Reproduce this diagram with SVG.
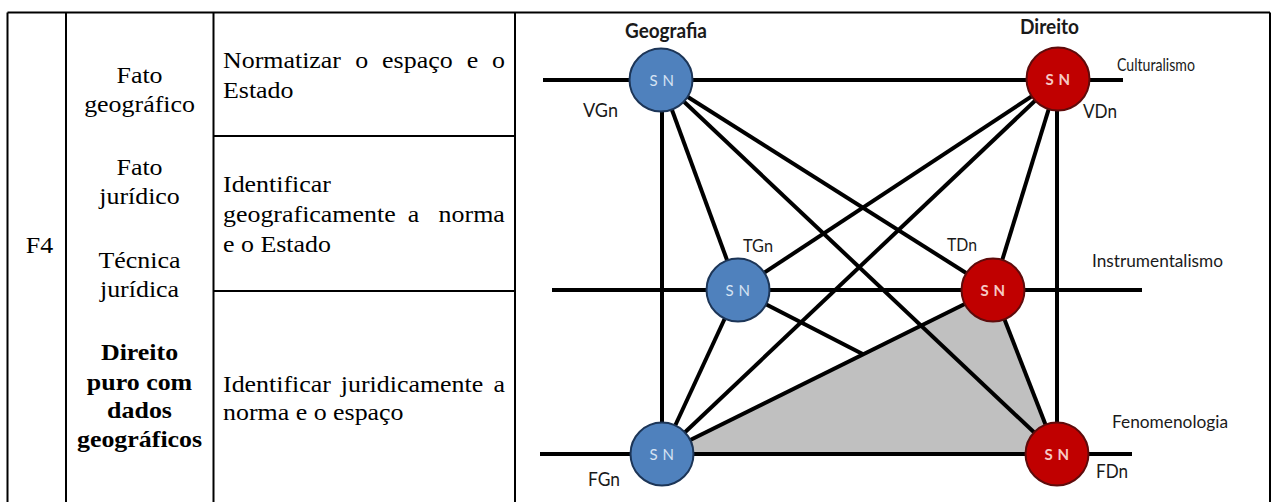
<svg xmlns="http://www.w3.org/2000/svg" width="1275" height="502" viewBox="0 0 1275 502">
  <style>
    .grid { stroke: #000; stroke-width: 2; fill: none; }
    .cell { font-family: "Liberation Serif", "Times New Roman", serif; font-size: 24px; fill: #000; }
    .mid { text-anchor: middle; }
    .b { font-weight: bold; }
    .edge { stroke: #000; stroke-width: 4; fill: none; stroke-linecap: butt; }
    .lbl { font-family: Lato, "Open Sans", "Liberation Sans", sans-serif; fill: #1a1a1a; }
    .hdr { font-weight: bold; font-size: 20px; }
    .geo circle { fill: #4f81bd; stroke: #1c3557; stroke-width: 2; }
    .dir circle { fill: #c00000; stroke: #5e0b0b; stroke-width: 2; }
    .sn { font-family: Lato, "Open Sans", "Liberation Sans", sans-serif; font-size: 15px; letter-spacing: 0.5px; text-anchor: middle; }
    .geo .sn { fill: #d6e3f3; }
    .dir .sn { fill: #f6c9c4; font-weight: bold; }
  </style>

  <rect width="1275" height="502" fill="#fff"/>

  <!-- table frame -->
  <g id="table">
    <path class="grid" d="M7.5,12.5 H1270 M7.5,12.5 V502 M66,12.5 V502 M213.5,12.5 V502 M515,12.5 V502 M1270,12.5 V502 M213.5,136 H515 M213.5,291 H515"/>
    <!-- cell texts, slightly widened glyphs -->
    <g transform="scale(1.08,1)">
      <text class="cell mid" x="36.6" y="253">F4</text>

      <text class="cell mid" x="129.2" y="83">Fato</text>
      <text class="cell mid" x="129.2" y="112">geográfico</text>
      <text class="cell mid" x="129.2" y="175">Fato</text>
      <text class="cell mid" x="129.2" y="204">jurídico</text>
      <text class="cell mid" x="129.2" y="268">Técnica</text>
      <text class="cell mid" x="129.2" y="297">jurídica</text>
      <text class="cell mid b" x="129.2" y="360">Direito</text>
      <text class="cell mid b" x="129.2" y="390">puro com</text>
      <text class="cell mid b" x="129.2" y="418">dados</text>
      <text class="cell mid b" x="129.2" y="447">geográficos</text>

      <text class="cell" y="68"><tspan x="206.5">Normatizar</tspan><tspan x="328.9">o</tspan><tspan x="353.8">espaço</tspan><tspan x="432.1">e</tspan><tspan x="455.6">o</tspan></text>
      <text class="cell" x="206.5" y="98">Estado</text>

      <text class="cell" x="206.5" y="192">Identificar</text>
      <text class="cell" y="222"><tspan x="206.5">geograficamente</tspan><tspan x="377.6">a</tspan><tspan x="406.1">norma</tspan></text>
      <text class="cell" x="206.5" y="252">e o Estado</text>

      <text class="cell" y="392"><tspan x="206.5">Identificar</tspan><tspan x="315.6">juridicamente</tspan><tspan x="456.9">a</tspan></text>
      <text class="cell" x="206.5" y="420">norma e o espaço</text>
    </g>
  </g>

  <!-- connectors: axes, links and the shaded region -->
  <g id="connectors">
    <line class="edge" x1="738" y1="290" x2="1057" y2="454"/>
    <polygon points="662,454 993,290 1057,454" fill="#c0c0c0"/>
    <line class="edge" x1="543" y1="80" x2="1123" y2="80"/>
    <line class="edge" x1="552" y1="290" x2="1142" y2="290"/>
    <line class="edge" x1="540" y1="454" x2="1132" y2="454"/>
    <line class="edge" x1="662" y1="80" x2="662" y2="454"/>
    <line class="edge" x1="1057" y1="79" x2="1057" y2="454"/>
    <line class="edge" x1="661" y1="80" x2="738" y2="290"/>
    <line class="edge" x1="661" y1="80" x2="993" y2="290"/>
    <line class="edge" x1="661" y1="80" x2="1057" y2="454"/>
    <line class="edge" x1="1058" y1="79" x2="738" y2="290"/>
    <line class="edge" x1="1058" y1="79" x2="662" y2="454"/>
    <line class="edge" x1="1058" y1="79" x2="993" y2="290"/>
    <line class="edge" x1="738" y1="290" x2="662" y2="454"/>
    <line class="edge" x1="993" y1="290" x2="662" y2="454"/>
    <line class="edge" x1="993" y1="290" x2="1057" y2="454"/>
  </g>

  <!-- nodes -->
  <g id="VG" class="geo">
    <circle cx="661" cy="80" r="31.5"/>
    <text class="sn" x="662" y="86">S N</text>
  </g>
  <g id="VD" class="dir">
    <circle cx="1058" cy="79" r="31.5"/>
    <text class="sn" x="1058" y="85">S N</text>
  </g>
  <g id="TG" class="geo">
    <circle cx="738" cy="290" r="31.5"/>
    <text class="sn" x="738" y="296">S N</text>
  </g>
  <g id="TD" class="dir">
    <circle cx="993" cy="290" r="31.5"/>
    <text class="sn" x="993" y="296">S N</text>
  </g>
  <g id="FG" class="geo">
    <circle cx="662" cy="454" r="31.5"/>
    <text class="sn" x="662" y="460">S N</text>
  </g>
  <g id="FD" class="dir">
    <circle cx="1057" cy="454" r="31.5"/>
    <text class="sn" x="1057" y="460">S N</text>
  </g>

  <!-- labels -->
  <g id="labels" class="lbl">
    <text class="hdr" x="625" y="37.5" textLength="82" lengthAdjust="spacingAndGlyphs">Geografia</text>
    <text class="hdr" x="1020" y="34" textLength="59" lengthAdjust="spacingAndGlyphs">Direito</text>
    <text x="1117" y="71" font-size="17" textLength="78" lengthAdjust="spacingAndGlyphs">Culturalismo</text>
    <text x="1092" y="267" font-size="17" textLength="131" lengthAdjust="spacingAndGlyphs">Instrumentalismo</text>
    <text x="1112" y="428" font-size="17" textLength="116" lengthAdjust="spacingAndGlyphs">Fenomenologia</text>
    <text x="583" y="117" font-size="19" textLength="35" lengthAdjust="spacingAndGlyphs">VGn</text>
    <text x="1083" y="118" font-size="19" textLength="34" lengthAdjust="spacingAndGlyphs">VDn</text>
    <text x="743" y="252" font-size="18" textLength="30" lengthAdjust="spacingAndGlyphs">TGn</text>
    <text x="947" y="251" font-size="18" textLength="30" lengthAdjust="spacingAndGlyphs">TDn</text>
    <text x="588" y="486" font-size="19" textLength="32" lengthAdjust="spacingAndGlyphs">FGn</text>
    <text x="1096" y="478" font-size="19" textLength="32" lengthAdjust="spacingAndGlyphs">FDn</text>
  </g>
</svg>
